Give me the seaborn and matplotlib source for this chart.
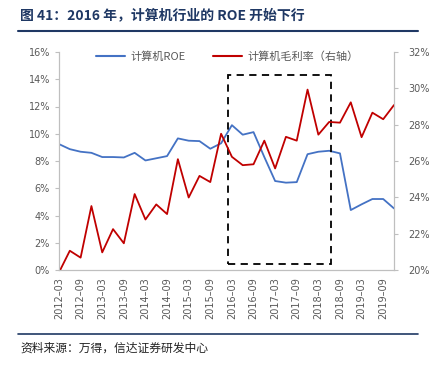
import matplotlib
matplotlib.use('Agg')
import matplotlib.pyplot as plt
import matplotlib.patches as patches
from matplotlib.lines import Line2D
import seaborn as sns
import pandas as pd

# Quarterly data, 2012-03 .. 2019-12
quarters = [f'{y}-{m}' for y in range(2012, 2020) for m in ('03', '06', '09', '12')]

# Computer industry ROE (%), left axis
roe = [9.24, 8.87, 8.68, 8.60, 8.29, 8.29, 8.26, 8.60,
       8.04, 8.20, 8.36, 9.66, 9.49, 9.46, 8.90, 9.30,
       10.63, 9.93, 10.12, 8.29, 6.53, 6.41, 6.45, 8.50,
       8.68, 8.75, 8.56, 4.40, 4.82, 5.21, 5.21, 4.52]

# Computer industry gross margin (%), right axis
margin = [19.87, 21.06, 20.68, 23.52, 20.97, 22.25, 21.47, 24.18,
          22.78, 23.61, 23.08, 26.10, 23.99, 25.18, 24.84, 27.50,
          26.23, 25.77, 25.82, 27.12, 25.59, 27.33, 27.12, 29.93,
          27.45, 28.15, 28.11, 29.23, 27.31, 28.66, 28.30, 29.08]

df = pd.DataFrame({'quarter': quarters, 'roe': roe, 'margin': margin})
df['idx'] = range(len(df))

blue = '#4472C4'
red = '#C00000'
navy = '#1F3864'
grey_txt = '#595959'
grey_line = '#BFBFBF'

sns.set_style('white')
plt.rcParams['font.family'] = ['Noto Sans CJK SC', 'DejaVu Sans']

fig = plt.figure(figsize=(4.29, 3.66), dpi=100)
ax = fig.add_axes([59 / 429, 1 - 270 / 366, (394 - 59) / 429, (270 - 52) / 366])
ax2 = ax.twinx()

sns.lineplot(data=df, x='idx', y='roe', ax=ax, color=blue, linewidth=1.3)
sns.lineplot(data=df, x='idx', y='margin', ax=ax2, color=red, linewidth=1.3)

ax.set_xlim(0, len(df) - 1)
ax.set_ylim(0, 16)
ax2.set_ylim(20, 32)
ax.set_yticks(range(0, 17, 2))
ax.set_yticklabels([f'{v}%' for v in range(0, 17, 2)])
ax2.set_yticks(range(20, 33, 2))
ax2.set_yticklabels([f'{v}%' for v in range(20, 33, 2)])

tick_pos = list(range(0, len(df), 2))
ax.set_xticks(tick_pos)
ax.set_xticklabels([quarters[i].replace('-', '–') for i in tick_pos], rotation=90)

ax.set_xlabel('')
ax.set_ylabel('')
ax2.set_ylabel('')

for a in (ax, ax2):
    for s in a.spines.values():
        s.set_color(grey_line)
        s.set_linewidth(0.8)
    a.spines['top'].set_visible(False)
    a.tick_params(colors=grey_txt, labelsize=7, length=3, width=0.8, direction='out')
    for lab in a.get_xticklabels() + a.get_yticklabels():
        lab.set_family('DejaVu Sans')
ax.tick_params(axis='both', color=grey_line, labelcolor=grey_txt)
ax2.tick_params(axis='y', color=grey_line, labelcolor=grey_txt, pad=7)
ax.tick_params(axis='x', pad=2)
ax.grid(False)
ax2.grid(False)

# dashed highlight box, 2016-2018
box = patches.Rectangle((15.65, 0.45), 25.15 - 15.65, 14.3 - 0.45, fill=False,
                        edgecolor='black', linestyle=(0, (4, 3)), linewidth=1.3,
                        zorder=5)
ax.add_patch(box)

handles = [Line2D([], [], color=blue, linewidth=1.5),
           Line2D([], [], color=red, linewidth=1.5)]
fig.legend(handles, ['计算机ROE', '计算机毛利率（右轴）'], loc='center',
           bbox_to_anchor=(0.53, 1 - 57 / 366), ncol=2, frameon=False,
           fontsize=8, handlelength=2.6, columnspacing=2.5,
           labelcolor=grey_txt, handletextpad=0.5)

fig.text(20 / 429, 1 - 15 / 366, '图 41：2016 年，计算机行业的 ROE 开始下行',
         fontsize=10, fontweight='bold', color=navy, va='center', ha='left')
fig.add_artist(Line2D([18 / 429, 418 / 429], [1 - 31 / 366, 1 - 31 / 366],
                      color=navy, linewidth=1.5))
fig.add_artist(Line2D([18 / 429, 418 / 429], [1 - 334 / 366, 1 - 334 / 366],
                      color=navy, linewidth=1.2))
fig.text(20 / 429, 1 - 348 / 366, '资料来源：万得，信达证券研发中心',
         fontsize=8.5, color='#222222', va='center', ha='left', style='italic')

fig.savefig('out.png', dpi=100)
